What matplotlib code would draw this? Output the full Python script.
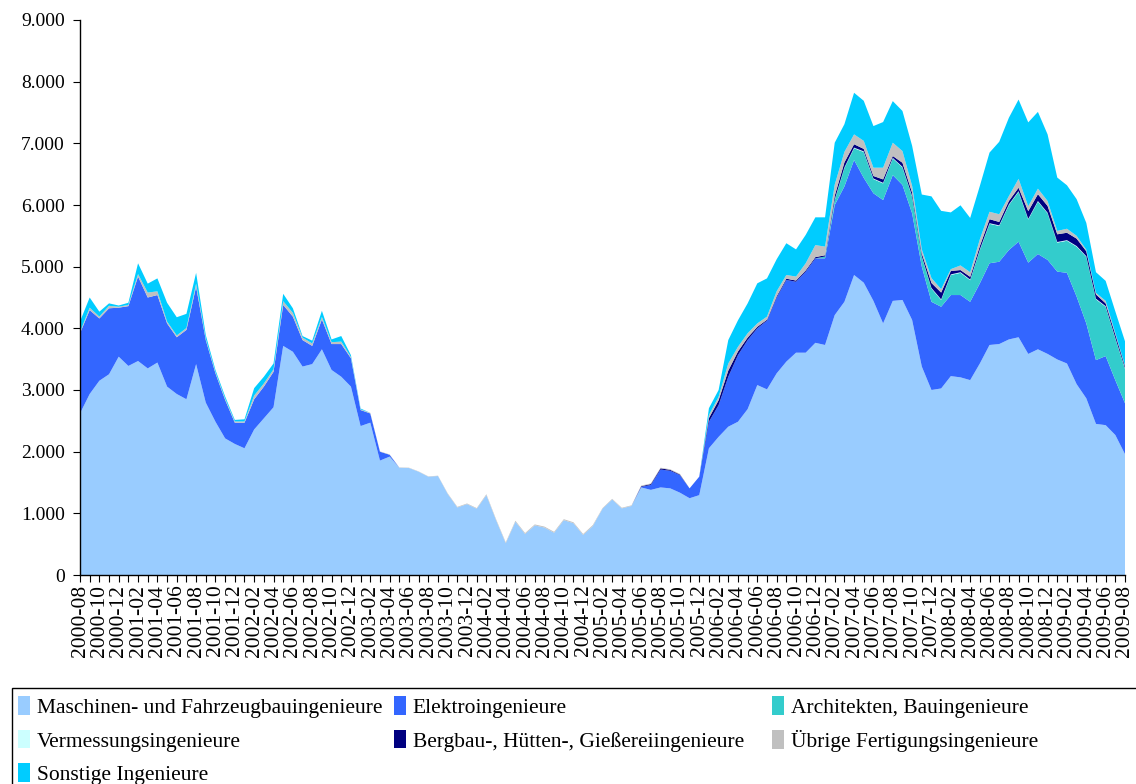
import matplotlib.pyplot as plt
from matplotlib.patches import Rectangle
import pandas as pd

months = [str(p) for p in pd.period_range('2000-08', '2009-08', freq='M')]

maschinen = [2620, 2935, 3150, 3255, 3540, 3390, 3470, 3350, 3445, 3055,
             2935, 2850, 3420, 2795, 2485, 2215, 2125, 2055, 2360, 2540,
             2720, 3715, 3620, 3380, 3420, 3660, 3325, 3215, 3055, 2415,
             2470, 1855, 1920, 1740, 1735, 1675, 1595, 1605, 1315, 1095,
             1150, 1075, 1295, 890, 515, 865, 665, 805, 770, 685,
             890, 840, 650, 795, 1075, 1225, 1080, 1120, 1420, 1380,
             1420, 1405, 1335, 1245, 1295, 2055, 2240, 2405, 2485, 2690,
             3080, 3010, 3270, 3460, 3605, 3605, 3765, 3730, 4215, 4430,
             4865, 4740, 4445, 4080, 4445, 4460, 4135, 3380, 3000, 3025,
             3225, 3205, 3160, 3430, 3730, 3745, 3820, 3855, 3585, 3660,
             3585, 3495, 3430, 3095, 2865, 2450, 2430, 2270, 1960]

elektro = [1300, 1360, 1010, 1070, 795, 970, 1370, 1150, 1095, 1025,
           920, 1125, 1255, 1015, 785, 625, 345, 415, 490, 515,
           575, 665, 570, 430, 295, 485, 420, 530, 460, 260,
           150, 145, 30, 0, 0, 0, 0, 0, 0, 0,
           0, 0, 0, 0, 0, 0, 0, 0, 0, 0,
           0, 0, 0, 0, 0, 0, 0, 0, 10, 80,
           290, 285, 285, 160, 300, 430, 515, 810, 1080, 1120,
           920, 1115, 1230, 1325, 1150, 1315, 1370, 1405, 1785, 1870,
           1865, 1700, 1745, 2000, 2040, 1865, 1730, 1620, 1430, 1325,
           1315, 1335, 1270, 1300, 1325, 1335, 1450, 1550, 1480, 1545,
           1525, 1425, 1470, 1420, 1215, 1035, 1120, 890, 825]

architekten = [0] * 77 + [30, 80, 300,
               190, 420, 230, 270, 270, 285, 270, 160, 215, 110,
               325, 360, 350, 540, 640, 580, 730, 810, 700, 850,
               755, 470, 520, 810, 1080, 985, 800, 675, 560]

vermessung = [0] * 78 + [10] * 31

bergbau = [0] * 58 + [10, 15,
           20, 15, 10, 0, 0, 60, 80, 100, 60, 40,
           25, 15, 20, 20, 20, 20, 20, 20, 60, 80,
           55, 40, 40, 55, 30, 65, 55, 45, 80, 110,
           55, 35, 45, 55, 65, 55, 55, 55, 125, 110,
           110, 125, 120, 120, 80, 70, 45, 55, 30]

uebrige = [20, 40, 30, 40, 15, 20, 40, 80, 60, 30,
           30, 30, 50, 20, 20, 20, 20, 20, 60, 50,
           40, 60, 60, 40, 40, 40, 30, 40, 20, 10,
           10, 5, 5, 5, 5, 5, 5, 5, 10, 10,
           10, 10, 15, 15, 15, 15, 15, 15, 15, 15,
           15, 15, 15, 15, 10, 10, 10, 10, 10, 10,
           10, 10, 10, 0, 0, 50, 55, 115, 75, 70,
           55, 50, 80, 60, 65, 115, 195, 140, 180, 170,
           160, 130, 135, 190, 215, 190, 110, 65, 80, 55,
           30, 75, 75, 110, 120, 125, 80, 145, 80, 90,
           80, 55, 65, 45, 25, 25, 40, 25, 10]

sonstige = [170, 165, 80, 40, 20, 35, 175, 145, 210, 305,
            295, 230, 175, 60, 35, 35, 25, 35, 120, 110,
            95, 120, 75, 25, 45, 100, 45, 90, 30, 15,
            0, 0, 0, 0, 0, 0, 0, 0, 0, 0,
            0, 0, 0, 0, 0, 0, 0, 0, 0, 0,
            0, 0, 0, 0, 0, 0, 0, 0, 0, 0,
            0, 0, 0, 0, 0, 110, 110, 380, 430, 485,
            650, 620, 520, 515, 440, 460, 450, 475, 680, 450,
            675, 650, 675, 740, 675, 650, 650, 890, 1325, 1270,
            920, 975, 880, 865, 960, 1175, 1270, 1285, 1360, 1245,
            1080, 865, 705, 595, 435, 335, 325, 350, 395]

names = ['Maschinen- und Fahrzeugbauingenieure', 'Elektroingenieure',
         'Architekten, Bauingenieure', 'Vermessungsingenieure',
         'Bergbau-, Hütten-, Gießereiingenieure', 'Übrige Fertigungsingenieure',
         'Sonstige Ingenieure']
colors = ['#99CCFF', '#3366FF', '#33CCCC', '#CCFFFF', '#000080', '#C0C0C0', '#00CCFF']

plt.rcParams['font.family'] = ['Liberation Serif', 'DejaVu Serif']

fig = plt.figure(figsize=(11.36, 7.84), dpi=100)
ax = fig.add_axes([80 / 1136, 1 - 575 / 784, 1045 / 1136, 555 / 784])

x = list(range(len(months)))
polys = ax.stackplot(x, maschinen, elektro, architekten, vermessung, bergbau,
                     uebrige, sonstige, colors=colors, linewidth=0)

ax.set_xlim(0, len(months) - 1)
ax.set_ylim(0, 9000)
ax.set_yticks(range(0, 9001, 1000))
ax.set_yticklabels([f'{v:,}'.replace(',', '.') for v in range(0, 9001, 1000)], fontsize=14)
ax.set_xticks(x)
ax.set_xticklabels([m if i % 2 == 0 else '' for i, m in enumerate(months)],
                   rotation=90, fontsize=15.5)
ax.tick_params(axis='x', direction='out', length=5, width=0.8, pad=2)
ax.tick_params(axis='y', direction='out', length=5, width=0.8, pad=6)
for s in ['top', 'right']:
    ax.spines[s].set_visible(False)
for s in ['left', 'bottom']:
    ax.spines[s].set_linewidth(1)

# legend box like the original, three columns laid out by hand
fig.patches.append(Rectangle((12 / 1136, -0.05), 1.1, 0.05 + 96 / 784,
                             transform=fig.transFigure, fill=False,
                             edgecolor='black', linewidth=1))
cols = [[0, 3, 6], [1, 4], [2, 5]]
col_x = [14 / 1136, 390 / 1136, 768 / 1136]
for cx, idx in zip(col_x, cols):
    leg = fig.legend([polys[i] for i in idx], [names[i] for i in idx],
                     loc='upper left', bbox_to_anchor=(cx, 1 - 692 / 784),
                     frameon=False, fontsize=15.5, handlelength=0.55,
                     handleheight=0.95, handletextpad=0.3, labelspacing=0.55,
                     borderaxespad=0, borderpad=0.2)

fig.savefig('out.png', dpi=100)
